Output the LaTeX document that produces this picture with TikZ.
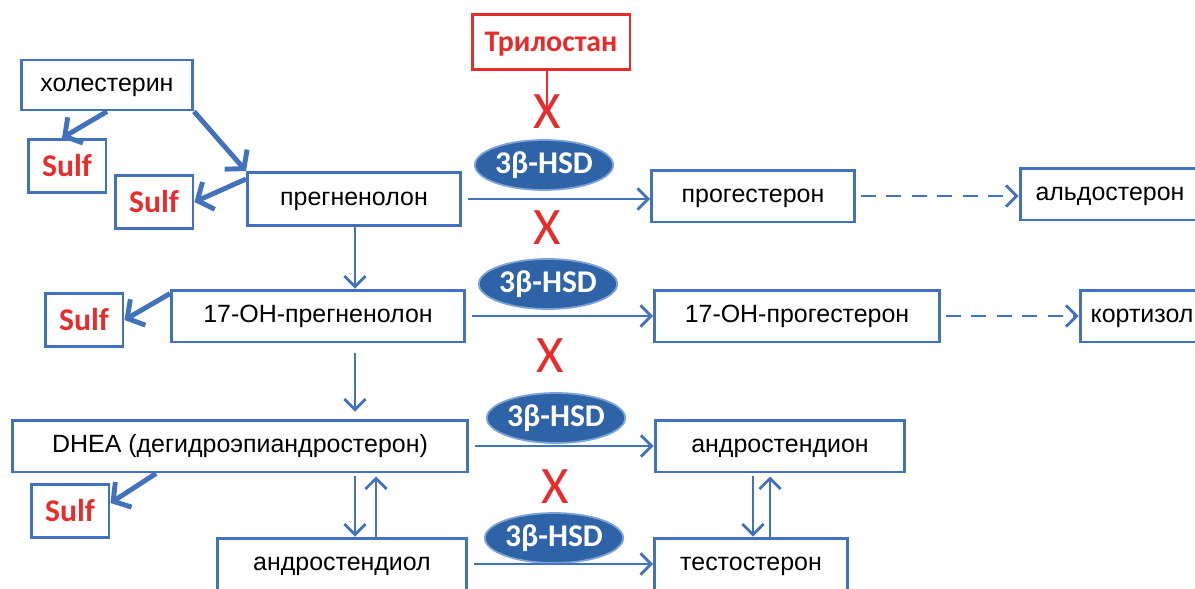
\documentclass[tikz,border=0pt]{standalone}
\usepackage{fontspec}
\setmainfont{Liberation Sans}
\newfontfamily\calib{Carlito}
\usetikzlibrary{shapes.geometric,arrows.meta}
\definecolor{bblue}{RGB}{66,114,188}
\definecolor{eblue}{RGB}{47,99,168}
\definecolor{elight}{RGB}{125,162,212}
\definecolor{sred}{RGB}{232,44,44}

\begin{document}
\begin{tikzpicture}[x=0.02cm,y=-0.02cm,
    >={Straight Barb[length=6pt,width=12pt]},
    every node/.style={font=\fontsize{14.2}{16}\selectfont},
    box/.style={draw=bblue,line width=1.7pt,minimum height=1.04cm,inner sep=0pt,
        text height=10pt,text depth=3pt,fill=white},
    sulf/.style={box,minimum width=1.56cm,minimum height=1.06cm,text height=12pt,text depth=0pt,
        text=sred,font=\calib\bfseries\fontsize{18}{20}\selectfont},
    enz/.style={ellipse,fill=eblue,draw=elight,line width=1pt,minimum width=2.44cm,minimum height=1cm,inner sep=0pt,text=white,font=\calib\bfseries\fontsize{18}{20}\selectfont},
    block/.style={text=sred,font=\calib\fontsize{30}{30}\selectfont,inner sep=0pt},
    flow/.style={->,draw=bblue,line width=1.6pt},
    fat/.style={-{Straight Barb[length=7pt,width=17pt]},draw=bblue,line width=2.8pt},
    later/.style={flow,dash pattern=on 8.5pt off 6pt}]
    \clip (0,0) rectangle (1195,588);

    % left column
    \node[box,minimum width=3.42cm,minimum height=1cm] (chol) at (107,85) {холестерин};
    \node[sulf] (sulfa) at (67,166) {Sulf};
    \node[sulf] (sulfb) at (154,202) {Sulf};
    \node[box,minimum width=4.26cm,minimum height=1.06cm] (preg) at (354,199) {прегненолон};
    \node[box,minimum width=5.86cm] (ohpreg) at (318,316) {17-OH-прегненолон};
    \node[sulf] (sulfc) at (84,320) {Sulf};
    \node[box,minimum width=9.1cm] (dhea) at (240,446) {DHEA (дегидроэпиандростерон)};
    \node[sulf] (sulfd) at (70,511) {Sulf};
    \node[box,minimum width=4.98cm] (andiol) at (342,564) {андростендиол};

    % right column
    \node[box,minimum width=4.06cm] (prog) at (753,196) {прогестерон};
    \node[box,minimum width=5.7cm] (ohprog) at (797,316) {17-OH-прогестерон};
    \node[box,minimum width=5cm] (andione) at (780,446) {андростендион};
    \node[box,minimum width=3.86cm] (testo) at (751,564) {тестостерон};
    \node[box,minimum width=3.6cm] (aldo) at (1110,194) {альдостерон};
    \node[box,minimum width=2.48cm] (cort) at (1142,316) {кортизол};

    % inhibitor
    \node[box,draw=sred,text=sred,minimum width=3.16cm,minimum height=1.1cm,text height=11pt,text depth=0pt,
        font=\calib\bfseries\fontsize{17}{20}\selectfont] (tril) at (551,42) {Трилостан};
    \foreach \x/\y[count=\i] in {547/112,547/228,550/356,555/487}
        \node[block] (x\i) at (\x,\y) {X};
    \draw[sred,line width=1.6pt] (x1.center |- tril.south) -- (x1.center);
    \foreach \x/\y[count=\i] in {544/165,548/284,556/418,554/538}
        \node[enz] (e\i) at (\x,\y) {3β-HSD};

    % sulfation
    \draw[fat] (chol.south east) -- (preg.north west);
    \draw[fat] (chol.south) -- ([xshift=-0.1cm]sulfa.north);
    \draw[fat] ([yshift=-0.16cm]preg.north west) -- (sulfb.east);
    \draw[fat] ([yshift=-0.1cm]ohpreg.north west) -- (sulfc.east);
    \draw[fat] ([xshift=2.9cm]dhea.south west) -- ([yshift=-0.4cm]sulfd.north east);

    % main chain
    \draw[flow] (preg.south -| 355,0) -- (ohpreg.north -| 355,0);
    \draw[flow] ([yshift=-0.2cm]ohpreg.south -| 355,0) -- ([yshift=0.14cm]dhea.north -| 355,0);
    \draw[flow] ([yshift=-0.06cm]dhea.south -| 355,0) -- (andiol.north -| 355,0);
    \draw[flow] (andiol.north -| 376,0) -- ([yshift=-0.06cm]dhea.south -| 376,0);
    \draw[flow] ([yshift=-0.06cm]andione.south -| 753,0) -- (testo.north -| 753,0);
    \draw[flow] (testo.north -| 770,0) -- ([yshift=-0.06cm]andione.south -| 770,0);

    % 3b-HSD steps
    \draw[flow] ([xshift=0.12cm]preg.east) -- (preg.east -| prog.west);
    \draw[flow] ([xshift=0.12cm]ohpreg.east) -- (ohpreg.east -| ohprog.west);
    \draw[flow] ([xshift=0.12cm]dhea.east) -- (dhea.east -| andione.west);
    \draw[flow] ([xshift=0.12cm]andiol.east) -- (andiol.east -| testo.west);
    \draw[later] ([xshift=0.1cm]prog.east) -- (prog.east -| aldo.west);
    \draw[later] ([xshift=0.1cm]ohprog.east) -- (cort.west);
\end{tikzpicture}
\end{document}
